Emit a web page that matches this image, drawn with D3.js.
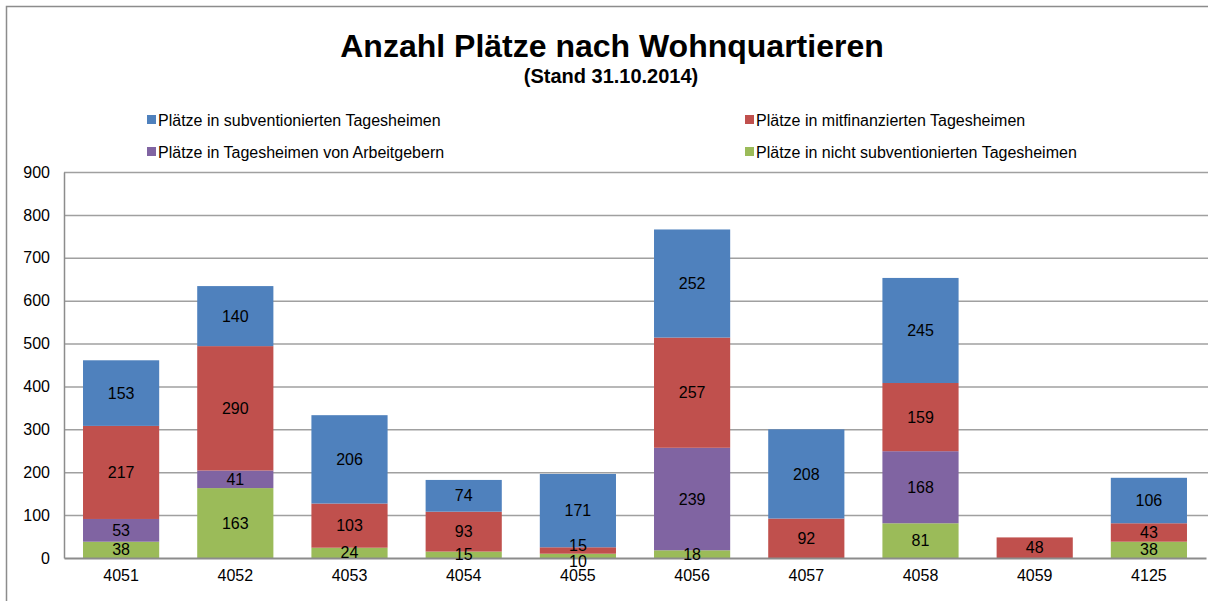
<!DOCTYPE html>
<html>
<head>
<meta charset="utf-8">
<script src="https://cdnjs.cloudflare.com/ajax/libs/d3/7.8.5/d3.min.js"></script>
<style>
  body { margin: 0; background: #fff; }
  svg { font-family: "Liberation Sans", Arial, sans-serif; }
</style>
</head>
<body>
<svg id="chart"></svg>
<script>
// Data
const quartiere = ["4051", "4052", "4053", "4054", "4055", "4056", "4057", "4058", "4059", "4125"];
const nichtSubv   = [38, 163, 24, 15, 10, 18, 0, 81, 0, 38];
const arbeitgeber = [53, 41, 0, 0, 0, 239, 0, 168, 0, 0];
const mitfinanz   = [217, 290, 103, 93, 15, 257, 92, 159, 48, 43];
const subventioniert = [153, 140, 206, 74, 171, 252, 208, 245, 0, 106];
const yTicks = [0, 100, 200, 300, 400, 500, 600, 700, 800, 900];

const seriesNames = {
  nichtSubv: "Plätze in nicht subventionierten Tagesheimen",
  arbeitgeber: "Plätze in Tagesheimen von Arbeitgebern",
  mitfinanz: "Plätze in mitfinanzierten Tagesheimen",
  subventioniert: "Plätze in subventionierten Tagesheimen"
};
const colors = {
  nichtSubv: "#9BBB59",
  arbeitgeber: "#8064A2",
  mitfinanz: "#C0504D",
  subventioniert: "#4F81BD"
};
const keys = ["nichtSubv", "arbeitgeber", "mitfinanz", "subventioniert"];

const rows = quartiere.map((q, i) => ({
  q: q,
  nichtSubv: nichtSubv[i],
  arbeitgeber: arbeitgeber[i],
  mitfinanz: mitfinanz[i],
  subventioniert: subventioniert[i]
}));

const W = 1208, H = 601;
const margin = {top: 172, right: 2, bottom: 43, left: 64};
const width = W - margin.left - margin.right;
const height = H - margin.top - margin.bottom;

const svg = d3.select("#chart").attr("width", W).attr("height", H);

// outer frame
svg.append("rect")
  .attr("x", 6.5).attr("y", 6.5)
  .attr("width", W + 10).attr("height", H + 10)
  .attr("fill", "none").attr("stroke", "#8c8c8c").attr("stroke-width", 1.5);

// title
svg.append("text")
  .attr("x", 612).attr("y", 57)
  .attr("text-anchor", "middle")
  .attr("font-size", 32).attr("font-weight", "bold")
  .text("Anzahl Plätze nach Wohnquartieren");
svg.append("text")
  .attr("x", 611).attr("y", 83)
  .attr("text-anchor", "middle")
  .attr("font-size", 20).attr("font-weight", "bold")
  .text("(Stand 31.10.2014)");

// legend
const legendItems = [
  {k: "subventioniert", x: 147, y: 120},
  {k: "mitfinanz", x: 745, y: 120},
  {k: "arbeitgeber", x: 147, y: 152},
  {k: "nichtSubv", x: 745, y: 152}
];
const lg = svg.append("g").selectAll("g").data(legendItems).join("g")
  .attr("transform", d => `translate(${d.x},${d.y})`);
lg.append("rect").attr("x", 0).attr("y", -5).attr("width", 9).attr("height", 9)
  .attr("fill", d => colors[d.k]);
lg.append("text").attr("x", 11).attr("y", 5.5)
  .attr("font-size", 16).text(d => seriesNames[d.k]);

const chart = svg.append("g").attr("transform", `translate(${margin.left},${margin.top})`);

const x = d3.scaleBand().domain(quartiere).range([0, width])
  .paddingInner(0.333).paddingOuter(0.1665);
const y = d3.scaleLinear().domain([0, 900]).range([height, 0]);

// gridlines
chart.append("g").selectAll("line").data(yTicks.filter(t => t > 0)).join("line")
  .attr("x1", 0).attr("x2", width + 10)
  .attr("y1", d => y(d) + 0.5).attr("y2", d => y(d) + 0.5)
  .attr("stroke", "#a0a0a0").attr("stroke-width", 1.5);

// y axis
const yAxis = chart.append("g")
  .call(d3.axisLeft(y).tickValues(yTicks).tickSize(0).tickPadding(14));
yAxis.select(".domain").attr("stroke", "#8c8c8c").attr("stroke-width", 1.5);
yAxis.selectAll("text").attr("font-size", 16).attr("fill", "#000")
  .attr("font-family", "Liberation Sans, Arial, sans-serif");

// stacked bars
const stack = d3.stack().keys(keys)(rows);
chart.append("g").selectAll("g").data(stack).join("g")
  .attr("fill", d => colors[d.key])
  .selectAll("rect").data(d => d).join("rect")
    .attr("x", d => x(d.data.q))
    .attr("width", x.bandwidth())
    .attr("y", d => y(d[1]))
    .attr("height", d => y(d[0]) - y(d[1]));

// x axis
const xAxis = chart.append("g").attr("transform", `translate(0,${height})`)
  .call(d3.axisBottom(x).tickSize(0).tickPadding(12));
xAxis.select(".domain").attr("stroke", "#8c8c8c").attr("stroke-width", 2);
xAxis.selectAll("text").attr("font-size", 16).attr("fill", "#000")
  .attr("font-family", "Liberation Sans, Arial, sans-serif");

// value labels, spread apart where two small segments would overlap
const labels = [];
quartiere.forEach((q, i) => {
  const col = [];
  stack.forEach(s => {
    const d = s[i];
    const v = d[1] - d[0];
    if (v > 0) col.push({q: q, v: v, cy: (y(d[0]) + y(d[1])) / 2});
  });
  for (let j = 1; j < col.length; j++) {
    const gap = col[j - 1].cy - col[j].cy;
    if (gap < 16) {
      const mid = (col[j - 1].cy + col[j].cy) / 2;
      col[j - 1].cy = mid + 8;
      col[j].cy = mid - 8;
    }
  }
  labels.push(...col);
});
chart.append("g").selectAll("text").data(labels).join("text")
  .attr("x", d => x(d.q) + x.bandwidth() / 2)
  .attr("y", d => d.cy)
  .attr("dy", "0.35em")
  .attr("text-anchor", "middle")
  .attr("font-size", 16)
  .text(d => d.v);
</script>
</body>
</html>
